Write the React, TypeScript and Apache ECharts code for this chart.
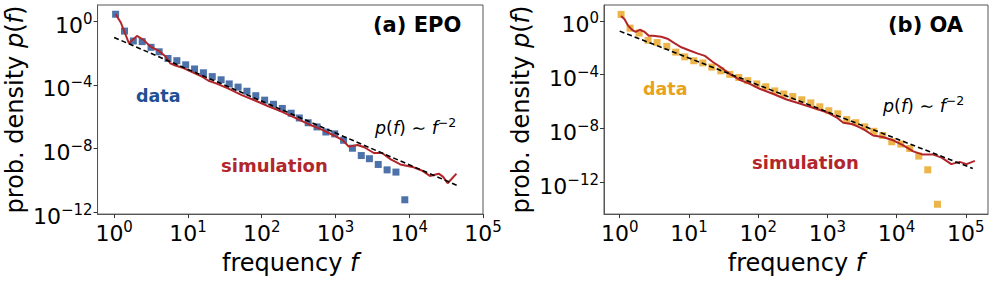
import React, { useEffect, useRef } from "react";
import * as echarts from "echarts";

// All values are log10 of the plotted quantities (frequency f, density p(f))
const xTickExps = [0, 1, 2, 3, 4, 5];
const yTickExps = [0, -4, -8, -12];

// (a) EPO
const epoDataLogF = [0.02, 0.14, 0.26, 0.38, 0.5, 0.61, 0.73, 0.85, 0.97, 1.09, 1.21, 1.33, 1.45, 1.56, 1.68, 1.8, 1.92, 2.04, 2.16, 2.28, 2.4, 2.51, 2.63, 2.75, 2.87, 2.99, 3.11, 3.23, 3.35, 3.46, 3.58, 3.7, 3.82, 3.94];
const epoDataLogP = [0.44, -0.62, -1.24, -1.28, -1.64, -1.92, -2.34, -2.48, -2.74, -3.0, -3.24, -3.48, -3.68, -3.94, -4.14, -4.4, -4.68, -4.96, -5.22, -5.48, -5.78, -6.08, -6.38, -6.64, -6.96, -7.08, -7.48, -7.98, -8.44, -8.64, -9.0, -9.34, -9.48, -11.22];
const epoSimLogF = [0.02, 0.09, 0.2, 0.31, 0.4, 0.49, 0.61, 0.69, 0.76, 0.83, 0.94, 1.05, 1.19, 1.28, 1.39, 1.55, 1.73, 1.91, 2.09, 2.27, 2.44, 2.62, 2.8, 2.98, 3.1, 3.18, 3.3, 3.39, 3.52, 3.63, 3.75, 3.88, 4.06, 4.17, 4.28, 4.4, 4.46, 4.52, 4.58, 4.64];
const epoSimLogP = [0.44, -0.08, -1.38, -0.92, -1.18, -1.58, -1.88, -2.18, -2.64, -2.78, -2.94, -3.18, -3.48, -3.74, -3.92, -4.24, -4.64, -4.98, -5.34, -5.68, -6.04, -6.44, -6.78, -7.18, -7.48, -7.88, -7.78, -7.92, -8.28, -8.28, -8.68, -9.0, -9.18, -9.38, -9.72, -9.58, -9.78, -10.18, -9.88, -9.58];
const epoFitLogF = [0.0, 4.65];
const epoFitLogP = [-1.02, -10.32];

// (b) OA
const oaDataLogF = [0.02, 0.15, 0.28, 0.41, 0.54, 0.68, 0.81, 0.94, 1.07, 1.2, 1.33, 1.46, 1.59, 1.72, 1.85, 1.98, 2.11, 2.24, 2.37, 2.5, 2.63, 2.76, 2.89, 3.02, 3.15, 3.28, 3.41, 3.54, 3.67, 3.8, 3.93, 4.06, 4.19, 4.32, 4.45, 4.59];
const oaDataLogP = [0.48, -0.54, -0.9, -1.44, -1.61, -1.89, -2.32, -2.67, -2.96, -3.12, -3.43, -3.71, -3.97, -4.2, -4.44, -4.68, -4.89, -5.2, -5.43, -5.62, -5.86, -6.09, -6.38, -6.67, -6.9, -7.33, -7.56, -7.87, -8.2, -8.51, -8.98, -9.15, -9.48, -10.04, -11.06, -13.62];
const oaSimLogF = [0.02, 0.07, 0.12, 0.19, 0.23, 0.29, 0.36, 0.42, 0.48, 0.6, 0.7, 0.79, 0.89, 1.01, 1.13, 1.23, 1.35, 1.49, 1.61, 1.73, 1.88, 2.02, 2.22, 2.41, 2.6, 2.79, 2.99, 3.13, 3.23, 3.37, 3.52, 3.66, 3.8, 3.95, 4.09, 4.24, 4.38, 4.53, 4.65, 4.79, 4.91, 5.01, 5.13];
const oaSimLogP = [0.36, 0.12, -0.35, -0.71, -0.82, -0.66, -0.82, -1.11, -1.11, -1.18, -1.35, -1.65, -1.96, -2.2, -2.43, -2.6, -3.07, -3.55, -4.01, -4.37, -4.68, -5.04, -5.43, -5.84, -6.14, -6.45, -6.78, -7.16, -7.56, -7.68, -8.04, -8.51, -8.62, -8.87, -9.22, -9.69, -9.93, -9.93, -10.16, -10.64, -10.47, -10.64, -10.4];
const oaFitLogF = [0.0, 5.1];
const oaFitLogP = [-0.76, -10.96];

const FONT = "DejaVu Sans";
const BLUE = "#1f4f94";
const ORANGE = "#e9a31b";
const RED = "#b2262b";
const SPINE = "#555";

const zip = (a: number[], b: number[]) => a.map((v, i) => [v, b[i]]);

const expLabel = (v: number) => {
  const e = Math.round(v);
  const s = e < 0 ? "\u2212" + Math.abs(e) : String(e);
  return `{b|10}{s|${s}}`;
};

const tickRich = {
  b: { fontFamily: FONT, fontSize: 22, lineHeight: 28, color: "#000" },
  s: { fontFamily: FONT, fontSize: 15, lineHeight: 15, color: "#000", verticalAlign: "top" },
};

const nameRich = {
  i: { fontFamily: FONT, fontSize: 24, fontStyle: "italic", color: "#000", lineHeight: 28 },
};

function xAxis(gridIndex: number, min: number, max: number) {
  return {
    type: "value",
    gridIndex,
    min,
    max,
    axisLine: { show: true, onZero: false, lineStyle: { color: SPINE, width: 1 } },
    splitLine: { show: false },
    axisTick: { show: true, inside: false, length: 4, customValues: xTickExps, lineStyle: { color: "#333" } },
    axisLabel: { customValues: xTickExps, formatter: expLabel, rich: tickRich, margin: 5 },
    name: "frequency {i|f}",
    nameLocation: "middle",
    nameGap: 27,
    nameTextStyle: { fontFamily: FONT, fontSize: 24, color: "#000", lineHeight: 28, rich: nameRich },
  };
}

function yAxis(gridIndex: number, min: number, max: number, gap: number) {
  return {
    type: "value",
    gridIndex,
    min,
    max,
    axisLine: { show: true, onZero: false, lineStyle: { color: SPINE, width: 1 } },
    splitLine: { show: false },
    axisTick: { show: true, inside: false, length: 4, customValues: yTickExps, lineStyle: { color: "#333" } },
    axisLabel: { customValues: yTickExps, formatter: expLabel, rich: tickRich, margin: 5, padding: [8, 0, 0, 0] },
    name: "prob. density {i|p}({i|f})",
    nameLocation: "middle",
    nameGap: gap,
    nameTextStyle: { fontFamily: FONT, fontSize: 24, color: "#000", lineHeight: 28, rich: nameRich },
  };
}

function txt(text: string, x: number, y: number, size: number, color: string, bold = true) {
  return {
    type: "text",
    x,
    y,
    z: 100,
    style: {
      text,
      fill: color,
      fontFamily: FONT,
      fontSize: size,
      fontWeight: bold ? "bold" : "normal",
      align: "left",
      verticalAlign: "middle",
    },
  };
}

function fitText(x: number, y: number) {
  const base = { fontFamily: FONT, fontSize: 17.5, color: "#000", fill: "#000" };
  return {
    type: "text",
    x,
    y,
    z: 100,
    style: {
      text: "{i|p}{n|(}{i|f}{n|) \u223C }{i|f}{s|\u22122}",
      fontFamily: FONT,
      fontSize: 17.5,
      fill: "#000",
      align: "left",
      verticalAlign: "middle",
      rich: {
        n: { ...base, lineHeight: 24 },
        i: { ...base, fontStyle: "italic", lineHeight: 24 },
        s: { ...base, fontSize: 12.5, lineHeight: 13, verticalAlign: "top" },
      },
    },
  };
}

export default function App() {
  const ref = useRef<HTMLDivElement>(null);
  useEffect(() => {
    if (!ref.current) return;
    const chart = echarts.init(ref.current, null, { renderer: "svg" });
    const gridCommon = { show: true, borderColor: SPINE, borderWidth: 1, backgroundColor: "transparent", containLabel: false };
    chart.setOption({
      animation: false,
      backgroundColor: "#fff",
      grid: [
        { ...gridCommon, left: 95, right: 514, top: 5, bottom: 58 },
        { ...gridCommon, left: 604, right: 9, top: 5, bottom: 58 },
      ],
      xAxis: [xAxis(0, -0.225, 5.0), xAxis(1, -0.227, 5.32)],
      yAxis: [yAxis(0, -12.12, 1.02, 58), yAxis(1, -14.35, 1.18, 67)],
      series: [
        {
          type: "scatter", xAxisIndex: 0, yAxisIndex: 0, symbol: "rect", symbolSize: 7,
          itemStyle: { color: BLUE }, data: zip(epoDataLogF, epoDataLogP), z: 2,
        },
        {
          type: "line", xAxisIndex: 0, yAxisIndex: 0, showSymbol: false, smooth: false,
          lineStyle: { color: RED, width: 2 }, data: zip(epoSimLogF, epoSimLogP), z: 3,
        },
        {
          type: "line", xAxisIndex: 0, yAxisIndex: 0, showSymbol: false,
          lineStyle: { color: "#000", width: 1.6, type: [5, 3] }, data: zip(epoFitLogF, epoFitLogP), z: 4,
        },
        {
          type: "scatter", xAxisIndex: 1, yAxisIndex: 1, symbol: "rect", symbolSize: 7,
          itemStyle: { color: ORANGE }, data: zip(oaDataLogF, oaDataLogP), z: 2,
        },
        {
          type: "line", xAxisIndex: 1, yAxisIndex: 1, showSymbol: false, smooth: false,
          lineStyle: { color: RED, width: 2 }, data: zip(oaSimLogF, oaSimLogP), z: 3,
        },
        {
          type: "line", xAxisIndex: 1, yAxisIndex: 1, showSymbol: false,
          lineStyle: { color: "#000", width: 1.6, type: [5, 3] }, data: zip(oaFitLogF, oaFitLogP), z: 4,
        },
      ],
      graphic: [
        txt("(a) EPO", 373, 25, 21, "#000"),
        txt("data", 136, 96, 17.5, BLUE),
        txt("simulation", 221, 165, 18, RED),
        fitText(375, 128),
        txt("(b) OA", 888, 25, 21, "#000"),
        txt("data", 643, 89, 17.5, ORANGE),
        txt("simulation", 752, 162, 18, RED),
        fitText(883, 106),
      ],
    });
    return () => chart.dispose();
  }, []);
  return (
    <div
      ref={ref}
      style={{ position: "fixed", left: 0, top: 0, width: 997, height: 282, background: "#fff" }}
    />
  );
}
